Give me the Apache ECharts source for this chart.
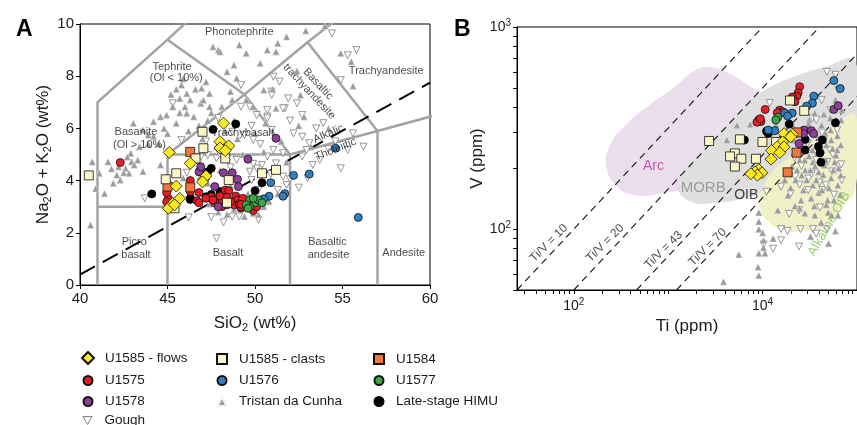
<!DOCTYPE html>
<html>
<head>
<meta charset="utf-8">
<script src="https://cdn.jsdelivr.net/npm/echarts@6/dist/echarts.min.js"></script>
<style>html,body{margin:0;padding:0;background:#fff}#chart{width:857px;height:425px}</style>
</head>
<body>
<div id="chart"></div>
<script>
// ---------- panel A : TAS diagram, [SiO2, Na2O+K2O] ----------
const tasFlows = [[48.2,6.2],[48.0,5.49],[48.5,5.33],[48.0,5.25],[48.3,5.15],[45.1,5.08],[46.3,4.66],[45.5,3.79],
  [47.05,4.05],[47.2,4.18],[47.0,3.95],[45.3,3.13],[45.7,3.32],[45.05,2.94],[45.4,3.07]];
const tasClasts = [[40.5,4.2],[47.0,5.87],[47.05,5.24],[46.6,4.85],[45.5,4.28],[44.9,4.05],[48.3,4.85],[48.5,4.02],
  [48.4,3.15],[50.4,4.28],[51.2,4.41],[45.4,2.94]];
const tasU1584 = [[46.3,5.1],[45.0,3.77],[46.3,3.74]];
const tasU1575 = [[42.3,4.69],[46.3,4.0],[46.3,3.58],[46.8,3.54],[45.05,3.32],[46.7,3.22],[47.5,3.38],[47.8,3.28],
  [48.0,3.41],[48.3,3.64],[48.5,3.61],[48.1,3.13],[48.4,3.36],[48.9,3.41],[49.0,3.26],[48.8,3.07],[49.1,3.07],
  [49.3,3.32],[48.6,3.19],[49.2,2.94],[47.7,3.15],[47.2,3.32],[44.95,3.54],[44.95,3.19],[46.8,3.15],[47.6,3.26],
  [48.1,3.0],[49.2,3.0],[49.9,2.85],[50.1,3.0],[49.2,3.09]];
const tasU1576 = [[50.9,3.92],[50.8,3.4],[50.5,3.3],[51.7,3.5],[51.6,3.4],[52.2,4.2],[53.1,4.25],[54.6,5.24],[55.9,2.59]];
const tasU1577 = [[49.7,3.26],[50.0,3.15],[49.7,3.0],[49.5,3.07],[50.2,3.26],[49.9,3.32],[50.4,3.15],[49.6,2.94]];
const tasU1578 = [[51.2,5.62],[49.6,4.82],[46.8,4.34],[48.2,4.3],[48.7,4.3],[49.0,4.05],[47.7,3.77],[49.05,3.77],
  [48.4,3.07],[47.9,3.0],[46.9,4.53]];
const tasHimu = [[47.6,5.96],[48.9,6.17],[44.1,3.49],[46.3,3.32],[47.5,3.47],[48.0,3.58],[50.0,3.61],[50.4,3.92],
  [47.3,4.34],[47.5,4.47],[46.3,3.28],[47.2,3.38],[47.1,4.2]];
const tasTristan = [[40.7,4.72],[41.1,4.28],[41.6,4.72],[42.2,4.53],[42.6,4.47],[42.95,4.72],[43.3,4.79],[42.8,4.28],
  [42.9,5.05],[42.1,4.21],[42.3,4.02],[41.4,3.51],[40.9,3.7],[40.6,2.3],[41.8,4.45],[42.5,4.3],[43.1,4.6],[42.7,4.9],
  [41.9,3.9],[43.6,4.35],[44.6,4.6],[43.9,5.4],[44.2,5.7],
  [45.5,7.5],[45.8,7.66],[46.1,7.34],[46.3,7.09],[45.7,7.15],[46.0,6.83],[45.3,6.83],[44.6,6.45],[44.95,6.51],
  [44.2,6.26],[43.05,6.2],[43.6,5.94],[43.9,5.75],[46.9,6.96],[46.1,6.58],[46.5,6.45],[45.2,7.3],[45.9,7.9],
  [46.6,7.5],[44.8,6.0],[45.5,6.2],[46.8,6.1],[47.3,6.3],[45.0,5.8],[46.2,5.9],[44.5,5.4],[47.0,5.6],[43.4,5.3],
  [45.7,6.6],[47.5,6.6],
  [47.2,7.79],[47.6,9.13],[47.9,9.0],[51.8,9.51],[52.9,9.74],[54.0,9.92],[48.0,8.94],[49.5,8.88],[50.7,9.0],
  [51.2,8.94],[51.3,9.26],[48.4,8.17],[48.8,8.43],[48.95,7.92],[46.95,7.54],[47.4,7.34],[48.6,7.41],[48.7,7.09],
  [47.05,7.09],[50.5,7.47],[51.0,7.5],[52.6,7.28],[52.8,6.45],[54.9,8.88],[55.5,8.56],[55.6,7.62],[49.5,7.09],
  [49.9,6.83],[51.2,6.77],[47.4,6.83],[48.1,6.83],[50.3,8.5],[49.1,9.2],[52.4,8.2],
  [48.3,5.9],[49.0,5.6],[50.0,5.8],[50.6,6.2],[51.5,5.5],[48.8,6.3],[47.8,5.3],[49.3,5.0],[50.5,5.1],[51.8,4.7],
  [53.2,5.3],[54.2,6.0],[52.5,6.1],
  [49.4,2.62],[49.9,2.75],[50.2,2.7],[49.2,3.13],[48.8,2.9],[48.4,2.7],[47.9,2.8],[50.5,3.0],[47.3,3.9],[46.8,4.3],
  [48.0,4.4],[50.8,3.2],[51.3,3.5],[49.6,3.5],[48.6,3.8],[46.5,3.4],[47.4,3.1],[45.9,4.1]];
const tasGough = [[54.4,9.64],[55.8,9.0],[55.3,8.8],[51.05,7.98],[51.4,7.79],[50.95,7.41],[51.7,6.77],[52.7,6.51],
  [50.7,6.7],[49.7,6.83],[49.2,7.66],[53.5,6.0],[53.9,6.2],[55.6,5.81],[54.9,7.85],[49.2,6.83],[50.1,6.51],[50.7,6.45],
  [48.7,5.87],[50.95,7.28],[51.9,7.15],[52.4,6.96],[51.6,6.77],[50.7,6.38],[50.95,5.94],[52.2,5.81],[52.7,5.68],
  [53.1,5.43],[49.9,5.56],[49.4,5.75],[51.05,5.17],[50.7,4.92],[51.2,4.66],[48.95,4.79],[47.8,4.85],[47.3,4.98],
  [43.7,3.32],[51.6,4.15],[51.8,3.83],[53.3,4.6],[52.95,5.17],[52.7,4.92],[48.95,3.9],[48.6,4.51],[50.1,4.47],
  [49.8,4.02],[50.2,3.64],[48.5,5.17],[45.3,6.96],[51.6,5.05],[54.9,4.47],[55.3,5.17],[53.7,4.79],[52.5,3.73],
  [52.0,4.05],[51.3,3.64],[50.4,4.6],[49.9,4.64],[46.2,2.59],[47.8,1.79],[49.7,4.34],[49.1,2.62],[48.7,2.62],
  [46.1,4.3],[45.8,5.55],[47.2,5.5],[46.9,4.9],[48.0,5.0],[50.3,5.4],[52.0,6.3],[54.2,5.2],[53.0,4.1],[54.6,5.5],
  [56.2,5.3],[50.2,2.5],[48.2,2.4],[47.5,2.6],[48.4,3.4],[50.9,4.25],[47.9,6.4],[49.8,6.1]];

// TAS field boundaries (Le Bas et al.) and alkalic / tholeiitic divide
const tasFields = [
  [[41,0],[41,7],[45,9.4],[48.4,11.5]],
  [[41,3],[45,3]],
  [[45,0],[45,5],[49.4,7.3],[53,9.3],[57.6,11.7]],
  [[45,9.4],[49.4,7.3]],
  [[45,5],[52,5],[57,5.9],[63,7]],
  [[49.4,7.3],[52,5]],
  [[52,0],[52,5]],
  [[57,0],[57,5.9]],
  [[53,9.3],[57,5.9]]
];
const alkDivide = [[40,0.4],[60,7.75]];
const tasNotes = [
  [49.1,9.69,'Phonotephrite',0],[45.26,8.35,'Tephrite',0],[45.5,7.93,'(Ol < 10%)',0],
  [43.2,5.86,'Basanite',0],[43.4,5.36,'(Ol > 10%)',0],[49.3,5.82,'Trachybasalt',0],
  [53.6,7.7,'Basaltic',-47],[53.1,7.41,'trachyandesite',-47],[57.5,8.2,'Trachyandesite',0],
  [54.2,5.79,'Alkalic',23],[54.6,5.2,'Tholeiitic',22],
  [43.1,1.66,'Picro',0],[43.2,1.15,'basalt',0],[48.46,1.23,'Basalt',0],
  [54.14,1.66,'Basaltic',0],[54.2,1.15,'andesite',0],[58.5,1.23,'Andesite',0]
];

// ---------- panel B : Ti vs V (ppm), [Ti, V] ----------
const tivFlows = [[16900,297],[20600,294],[19800,286],[16300,270],[14300,255],[12400,245],[16900,255],[12300,222],
  [9100,197],[8300,192],[9850,190],[8800,185],[15200,239],[7500,188]];
const tivClasts = [[19500,433],[27600,385],[2710,273],[5750,278],[9950,270],[13900,270],[5080,237],[4520,229],
  [5950,223],[8500,223],[5080,204]];
const tivU1584 = [[23200,301],[22900,239],[18400,191]];
const tivU1575 = [[24700,507],[23800,473],[23000,455],[20600,450],[22000,427],[10650,391],[15200,388],[16300,381],
  [14300,377],[9100,347],[9600,341],[8700,338],[9450,352]];
const tivU1576 = [[34900,455],[33700,420],[29300,406],[56800,543],[66400,496],[20600,375],[17100,375],[18400,363],
  [13450,307],[11500,309]];
const tivU1577 = [[14500,358],[13800,347]];
const tivU1578 = [[56800,391],[63300,408],[27500,309],[32900,307],[34700,297],[27100,297],[24300,265]];
const tivHimu = [[11500,297],[19100,331],[28200,278],[43000,276],[39000,256],[28200,246],[40500,238],[59100,336],
  [41600,214],[6410,276],[11000,305]];
const tivTristan = [[9110,121],[9110,109],[9110,100],[10000,96],[10240,88],[12940,90],[9110,76],[10600,76],[5600,75],
  [8950,65],[9110,59],[3850,55],[10240,81],[5350,327],[7400,330],[13900,330],[4180,276],[35600,375],
  [20900,327],[23400,292],[26400,316],[29700,276],[33300,246],[37500,292],[42100,327],[47300,261],[53200,276],
  [59800,232],[67300,261],[24600,220],[28300,196],[34100,215],[39300,192],[45200,207],[53200,179],[62700,165],
  [22400,175],[27000,156],[32600,142],[39300,152],[47300,132],[57100,139],[67300,185],[18600,147],[24600,127],
  [35700,117],[49600,121],[62700,117],[43100,246],[31100,347],[52000,355],[68900,388],[34100,165],
  [21200,276],[24600,246],[28000,220],[32200,196],[37000,175],[42500,156],[48800,139],[56000,196],[61700,246],
  [52600,309],[68000,347],[46800,220],[40600,276],[33700,246],[29300,175],[25500,139],[35300,130],[53800,117],
  [66400,148],[23200,196],[19800,160],[30700,331],[44600,370],[59100,435],[22000,130],[41600,108],[59100,98],
  [50000,85],[28000,120],[32200,92],[14500,124],[26000,185],[31000,230],[36000,205],[44000,186],[50500,160],
  [58000,215],[64000,200],[38000,262],[46000,300],[27500,255],[55000,250],[62000,290],[20500,205],[17200,175]];
const tivGough = [[48000,600],[42200,435],[11900,420],[11000,153],[15700,162],[19800,150],[24300,124],[19100,119],
  [15700,100],[18370,98],[25200,100],[34200,100],[37000,95],[48000,100],[24300,82],[12940,80],[10240,84],
  [15700,88],[22100,181],[30400,156],[43000,156],[54300,193],[63500,205],[40500,128],[59100,580],[63500,488],
  [33700,354],[28000,309],[37000,347],[52600,388],[44600,276],[61700,309],[51400,246],[68000,209],[37000,220],
  [30700,178],[24600,166],[46800,165],[57100,148],[69000,175],[25800,205],[33000,188],[40000,170],[48500,215],
  [55500,235],[30000,265],[36500,240],[42500,300],[21800,225]];

// compositional fields (Shervais-type) and Ti/V reference lines
const arcField = [[220,207],[242,261],[351,327],[629,411],[1130,499],[1800,599],[2560,634],[4080,599],[7000,516],
  [10400,436],[9270,309],[4590,220],[2020,165],[893,151],[443,147],[278,165]];
const morbField = [[1270,156],[1360,185],[1800,220],[2880,270],[5160,355],[8240,446],[13200,516],[23600,578],
  [42400,627],[95900,671],[95900,246],[47500,220],[23600,192],[13200,165],[8240,147],[5160,139],[3240,135],[1800,136]];
const oibField = [[9270,129],[9930,156],[13200,196],[18700,224],[29800,261],[53500,316],[95900,366],[95900,156],
  [70800,132],[47500,106],[26500,97.7],[16600,98.9],[11700,108]];
const tivRatios = [
  [[25,50],[10000,1000]],
  [[100,50],[40000,1000]],
  [[462,50],[185000,1000]],
  [[1225,50],[490000,1000]]
];
const tivNotes = [
  [697,205,'Arc',0],[2344,160,'MORB',0],[6710,147,'OIB',0],[50500,106,'Alkaline OIB',60],
  [54.5,85.3,'Ti/V = 10',45],[215,85.3,'Ti/V = 20',45],[893,78.8,'Ti/V = 43',45],[2620,81.5,'Ti/V = 70',45]
];
const tiTicks = [30,40,50,60,70,80,90,100,200,300,400,500,600,700,800,900,1000,2000,3000,4000,5000,6000,7000,
  8000,9000,10000,20000,30000,40000,50000,60000,70000,80000,90000,100000];
const tiLabels = [100,10000];
const vTicks = [50,60,70,80,90,100,200,300,400,500,600,700,800,900,1000];
const vLabels = [100,1000];

// legend layout: [name, column, row]
const legendItems = [
  ['U1585 - flows',0,0],['U1585 - clasts',1,0],['U1584',2,0],
  ['U1575',0,1],['U1576',1,1],['U1577',2,1],
  ['U1578',0,2],['Tristan da Cunha',1,2],['Late-stage HIMU',2,2],
  ['Gough',0,3]
];
const legendCols = [81, 215, 372];
const legendRows = [351, 372, 393, 412];

const FONT = '"Liberation Sans", Arial, Helvetica, sans-serif';
const INK = '#1a1a1a';

// symbol styles per group: name, symbol, size, fill, border, rotate, tas data, tiv data
const groups = [
  ['Gough', 'triangle', 7, '#ffffff', '#7d7d7d', 180, tasGough, tivGough],
  ['Tristan da Cunha', 'triangle', 7, '#9c9c9c', '#f4f4f4', 0, tasTristan, tivTristan],
  ['Late-stage HIMU', 'circle', 8, '#000000', '#000000', 0, tasHimu, tivHimu],
  ['U1575', 'circle', 8, '#e31e25', '#111', 0, tasU1575, tivU1575],
  ['U1576', 'circle', 8, '#2f7fc1', '#111', 0, tasU1576, tivU1576],
  ['U1577', 'circle', 8, '#3ba846', '#111', 0, tasU1577, tivU1577],
  ['U1578', 'circle', 8, '#8d3f9b', '#111', 0, tasU1578, tivU1578],
  ['U1584', 'rect', 9, '#f0783a', '#111', 0, tasU1584, tivU1584],
  ['U1585 - clasts', 'rect', 9, '#fbf6c5', '#111', 0, tasClasts, tivClasts],
  ['U1585 - flows', 'diamond', 12, '#fbe820', '#111', 0, tasFlows, tivFlows]
];
const legendIconSize = { 'U1585 - flows': 12, 'U1585 - clasts': 10, 'U1584': 10, 'Gough': 9, 'Tristan da Cunha': 9, 'Late-stage HIMU': 9 };
const downTriangle = 'path://M0,0L10,0L5,8.7Z';

const series = [];

// panel B shaded fields
function field(points, color) {
  return {
    type: 'custom', xAxisIndex: 1, yAxisIndex: 1, silent: true, clip: true, z: 1,
    data: points,
    renderItem: function (params, api) {
      if (params.dataIndex !== 0) return null;
      return {
        type: 'polygon',
        shape: { points: points.map(p => api.coord(p)), smooth: 0.45 },
        style: { fill: color }
      };
    }
  };
}
series.push(field(arcField, '#ecdfed'));
series.push(field(morbField, '#dfdfdf'));
series.push(field(oibField, '#f1f1c7'));

tivRatios.forEach(l => series.push({
  type: 'line', xAxisIndex: 1, yAxisIndex: 1, data: l, symbol: 'none', silent: true, z: 2,
  lineStyle: { color: '#111', width: 1.1, type: [7, 5] }
}));

tasFields.forEach(l => series.push({
  type: 'line', xAxisIndex: 0, yAxisIndex: 0, data: l, symbol: 'none', silent: true, z: 1,
  lineStyle: { color: '#a3a3a3', width: 2.5 }
}));
series.push({
  type: 'line', xAxisIndex: 0, yAxisIndex: 0, data: alkDivide, symbol: 'none', silent: true, z: 3,
  lineStyle: { color: '#000', width: 2, type: [17, 9] }
});

groups.forEach((g, i) => {
  [[0, g[6]], [1, g[7]]].forEach(([k, d]) => series.push({
    type: 'scatter', name: g[0], xAxisIndex: k, yAxisIndex: k, data: d,
    symbol: g[1], symbolSize: g[2], symbolRotate: g[5], z: 4 + i,
    itemStyle: { color: g[3], borderColor: g[4], borderWidth: g[0] === 'Tristan da Cunha' ? 0.4 : 0.8, opacity: 1 }
  }));
});

function notes(list, k, styleFor) {
  return {
    type: 'scatter', xAxisIndex: k, yAxisIndex: k, symbolSize: 0, silent: true, z: 30,
    data: list.map(n => ({
      value: [n[0], n[1]],
      label: Object.assign({ formatter: n[2], rotate: n[3] }, styleFor(n[2]))
    })),
    label: { show: true, position: 'inside', fontFamily: FONT, fontSize: 11, color: INK }
  };
}
series.push(notes(tasNotes, 0, () => ({})));
series.push(notes(tivNotes, 1, t => {
  if (t === 'Arc') return { color: '#b8379f', fontSize: 14 };
  if (t === 'MORB') return { color: '#8a8a8a', fontSize: 15 };
  if (t === 'OIB') return { color: '#111', fontSize: 14 };
  if (t === 'Alkaline OIB') return { color: '#7cc24c', fontSize: 13 };
  return { color: INK, fontSize: 12 };
}));

const tickLabel = { fontFamily: FONT, fontSize: 15, color: INK };
const sup = v => '10{p|' + Math.round(Math.log10(v)) + '}';
const supRich = { p: { fontSize: 10, padding: [0, 0, 8, 0], fontFamily: FONT, color: INK } };
const nameStyle = { fontFamily: FONT, fontSize: 17, color: INK, rich: { s: { fontSize: 11, padding: [8, 0, 0, 0], fontFamily: FONT, color: INK } } };
const axLine = { show: true, lineStyle: { color: '#000', width: 1 } };

const legends = legendItems.map(([name, c, r]) => {
  const s = legendIconSize[name] || 9;
  const item = name === 'Gough'
    ? { name: name, icon: downTriangle, itemStyle: { color: '#ffffff', borderColor: '#7d7d7d', borderWidth: 1 } }
    : name;
  return {
    data: [item], left: legendCols[c] + (12 - s) / 2, top: legendRows[r] + (12 - s) / 2,
    itemWidth: s, itemHeight: s, padding: 0, selectedMode: false,
    textStyle: { fontFamily: FONT, fontSize: 13.5, color: INK, padding: [0, 0, 0, 6 + (12 - s) / 2] }
  };
});

const option = {
  animation: false,
  backgroundColor: '#fff',
  title: [
    { text: 'A', left: 11, top: 13, textStyle: { fontFamily: FONT, fontSize: 23, fontWeight: 'bold', color: '#000' } },
    { text: 'B', left: 449, top: 13, textStyle: { fontFamily: FONT, fontSize: 23, fontWeight: 'bold', color: '#000' } }
  ],
  legend: legends,
  grid: [
    { left: 80, top: 24, width: 350, height: 261, show: true, borderColor: '#000', borderWidth: 1, backgroundColor: 'transparent' },
    { left: 517, top: 27, width: 355, height: 263, show: true, borderColor: '#000', borderWidth: 1, backgroundColor: 'transparent' }
  ],
  xAxis: [
    {
      gridIndex: 0, type: 'value', min: 40, max: 60, interval: 5,
      axisLine: axLine, axisTick: { length: 4, lineStyle: { color: '#000' } },
      axisLabel: Object.assign({ margin: 6 }, tickLabel), splitLine: { show: false },
      name: 'SiO{s|2} (wt%)', nameLocation: 'middle', nameGap: 29, nameTextStyle: nameStyle
    },
    {
      gridIndex: 1, type: 'log', logBase: 10, min: 25, max: 100000,
      axisLine: axLine, axisTick: { length: 4, customValues: tiTicks, lineStyle: { color: '#000' } },
      axisLabel: Object.assign({ margin: 7, customValues: tiLabels, formatter: sup, rich: supRich }, tickLabel, { fontSize: 14 }),
      splitLine: { show: false }, minorTick: { show: false },
      name: 'Ti (ppm)', nameLocation: 'middle', nameGap: 24, nameTextStyle: nameStyle
    }
  ],
  yAxis: [
    {
      gridIndex: 0, type: 'value', min: 0, max: 10, interval: 2,
      axisLine: axLine, axisTick: { length: 4, lineStyle: { color: '#000' } },
      axisLabel: Object.assign({ margin: 6 }, tickLabel), splitLine: { show: false },
      name: 'Na{s|2}O + K{s|2}O (wt%)', nameLocation: 'middle', nameGap: 27, nameRotate: 90, nameTextStyle: nameStyle
    },
    {
      gridIndex: 1, type: 'log', logBase: 10, min: 50, max: 1000,
      axisLine: axLine, axisTick: { length: 4, customValues: vTicks, lineStyle: { color: '#000' } },
      axisLabel: Object.assign({ margin: 6, customValues: vLabels, formatter: sup, rich: supRich }, tickLabel, { fontSize: 14 }),
      splitLine: { show: false }, minorTick: { show: false },
      name: 'V (ppm)', nameLocation: 'middle', nameGap: 28, nameRotate: 90, nameTextStyle: nameStyle
    }
  ],
  series: series
};

const chart = echarts.init(document.getElementById('chart'), null, { renderer: 'canvas' });
chart.setOption(option);
</script>
</body>
</html>
